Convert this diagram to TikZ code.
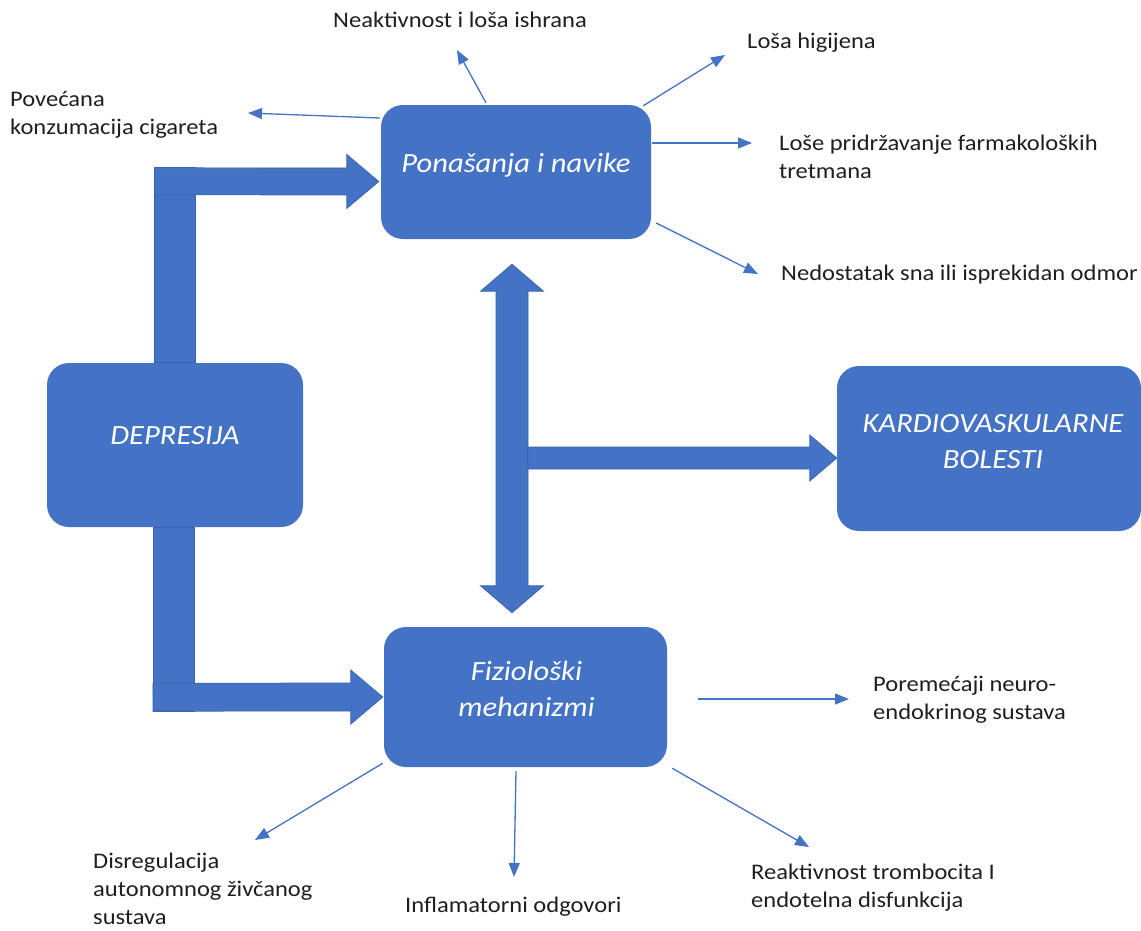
\documentclass[tikz,border=0pt]{standalone}
\usepackage{fontspec}
\setmainfont{Carlito}[FakeStretch=1.1]
\usetikzlibrary{arrows.meta,calc,backgrounds}

\definecolor{boxblue}{HTML}{4472C4}
\definecolor{arrowedge}{HTML}{3A63B0}
\definecolor{inkgray}{HTML}{1F1F1F}

\tikzset{
  box/.style={fill=boxblue, rounded corners=22pt, inner sep=0pt},
  boxtxt/.style={text=white, font=\fontsize{27.8}{36}\selectfont\itshape, align=center, inner sep=0pt},
  note/.style={text=inkgray, font=\fontsize{22.3}{28}\selectfont, align=left, inner sep=0pt, anchor=base west},
  thinarr/.style={draw=boxblue, line width=1.3pt, -{Triangle[length=14pt,width=11pt]}},
  blk/.style={fill=boxblue, draw=arrowedge, line width=0.7pt, line join=miter},
}

% wide block arrow from #1 to #2: shaft width #3, head width #4, head length #5
\newcommand\blockarrow[5]{%
  \draw[blk] let \p1=(#1), \p2=(#2), \n1={atan2(\y2-\y1,\x2-\x1)}, \n2={veclen(\x2-\x1,\y2-\y1)} in
    [shift={(\p1)}, rotate=\n1]
    (0pt,{#3*0.5pt}) -- ({(\n2-#5)*1pt},{#3*0.5pt}) -- ({(\n2-#5)*1pt},{#4*0.5pt})
    -- ({\n2*1pt},0pt) -- ({(\n2-#5)*1pt},{-#4*0.5pt}) -- ({(\n2-#5)*1pt},{-#3*0.5pt})
    -- (0pt,{-#3*0.5pt}) -- cycle;}

% wide block arrow with heads at both ends
\newcommand\blockdouble[5]{%
  \draw[blk] let \p1=(#1), \p2=(#2), \n1={atan2(\y2-\y1,\x2-\x1)}, \n2={veclen(\x2-\x1,\y2-\y1)} in
    [shift={(\p1)}, rotate=\n1]
    ({#5*1pt},{#3*0.5pt}) -- ({(\n2-#5)*1pt},{#3*0.5pt}) -- ({(\n2-#5)*1pt},{#4*0.5pt})
    -- ({\n2*1pt},0pt) -- ({(\n2-#5)*1pt},{-#4*0.5pt}) -- ({(\n2-#5)*1pt},{-#3*0.5pt})
    -- ({#5*1pt},{-#3*0.5pt}) -- ({#5*1pt},{-#4*0.5pt}) -- (0pt,0pt)
    -- ({#5*1pt},{#4*0.5pt}) -- cycle;}

\begin{document}
\begin{tikzpicture}[x=1pt, y=-1pt]
\useasboundingbox (0,0) rectangle (1141,930);

% main boxes
\node[box, minimum width=270pt, minimum height=134pt,
      label={[boxtxt, yshift=7pt]center:Ponašanja i navike}] (pon) at (516,172) {};
\node[box, minimum width=256pt, minimum height=164pt,
      label={[boxtxt, yshift=9pt]center:DEPRESIJA}] (dep) at (175,445) {};
\node[box, minimum width=304pt, minimum height=165pt,
      label={[boxtxt, yshift=7pt, xshift=4pt]center:KARDIOVASKULARNE\\BOLESTI}] (kar) at (989,448.5) {};
\node[box, minimum width=283pt, minimum height=140pt,
      label={[boxtxt, yshift=8pt, xshift=1pt]center:Fiziološki\\mehanizmi}] (fiz) at (525.5,697) {};

% side notes (anchored at the baseline of their last line)
\node[note] (n-neak)  at (333,27)  {Neaktivnost i loša ishrana};
\node[note] (n-hig)   at (747,48)  {Loša higijena};
\node[note] (n-cig)   at (10,134)  {Povećana\\konzumacija cigareta};
\node[note] (n-farm)  at (779,178) {Loše pridržavanje farmakoloških\\tretmana};
\node[note] (n-san)   at (781,280) {Nedostatak sna ili isprekidan odmor};
\node[note] (n-neuro) at (873,719) {Poremećaji neuro-\\endokrinog sustava};
\node[note] (n-trom)  at (751,907) {Reaktivnost trombocita I\\endotelna disfunkcija};
\node[note] (n-infl)  at (405,912) {Inflamatorni odgovori};
\node[note, font=\fontsize{22.3}{28}\selectfont] (n-auto) at (93,924.5) {Disregulacija\\autonomnog živčanog\\sustava};

% free ends of the thin arrows
\coordinate (e-cig)   at (248,113);
\coordinate (e-neak)  at (457,50);
\coordinate (e-hig)   at (725,55);
\coordinate (e-farm)  at (752,143);
\coordinate (e-san)   at (758,274);
\coordinate (e-neuro) at (849,699);
\coordinate (e-trom)  at (809,847);
\coordinate (e-infl)  at (514,877);
\coordinate (e-auto)  at (255,840);

% behaviour outcomes
\draw[thinarr] ($(pon.west)+(-1,-54)$) -- (e-cig);
\draw[thinarr] ($(pon.north)+(-30,-2)$) -- (e-neak);
\draw[thinarr] ($(pon.north east)+(-8,1)$) -- (e-hig);
\draw[thinarr] ($(pon.east)+(1,-29)$) -- (e-farm);
\draw[thinarr] ($(pon.east)+(5,51)$) -- (e-san);

% physiological outcomes
\draw[thinarr] ($(fiz.east)+(31,2)$) -- (e-neuro);
\draw[thinarr] ($(fiz.south east)+(5,1)$) -- (e-trom);
\draw[thinarr] ($(fiz.south)+(-9.5,4)$) -- (e-infl);
\draw[thinarr] ($(fiz.south west)+(-1,-4)$) -- (e-auto);

\begin{pgfonlayer}{background}
  \fill[white] (0,0) rectangle (1141,930);

  % depression -> behaviour
  \draw[blk] ($(dep.north)+(-20.5,0)$) rectangle ($(dep.north)+(20.5,-195)$);
  \coordinate (a1s) at ($(dep.north)+(-20.5,-181.5)$);
  \coordinate (a1e) at ($(pon.west)+(-2,9.5)$);
  \blockarrow{a1s}{a1e}{27}{54}{32}

  % depression -> physiology
  \draw[blk] ($(dep.south)+(-22,0)$) rectangle ($(dep.south)+(19,184)$);
  \coordinate (a2s) at ($(dep.south)+(-22,170)$);
  \coordinate (a2e) at ($(fiz.west)+(-1,0)$);
  \blockarrow{a2s}{a2e}{28}{54}{32}

  % behaviour <-> physiology
  \coordinate (v1) at ($(pon.south)+(-4,25)$);
  \coordinate (v2) at ($(fiz.north)+(-13.5,-14)$);
  \blockdouble{v1}{v2}{32}{63}{27}

  % branch -> cardiovascular disease
  \coordinate (h1) at ($(kar.west)+(-309,9.5)$);
  \coordinate (h2) at ($(kar.west)+(0,9.5)$);
  \blockarrow{h1}{h2}{22}{46}{27}
\end{pgfonlayer}
\end{tikzpicture}
\end{document}
